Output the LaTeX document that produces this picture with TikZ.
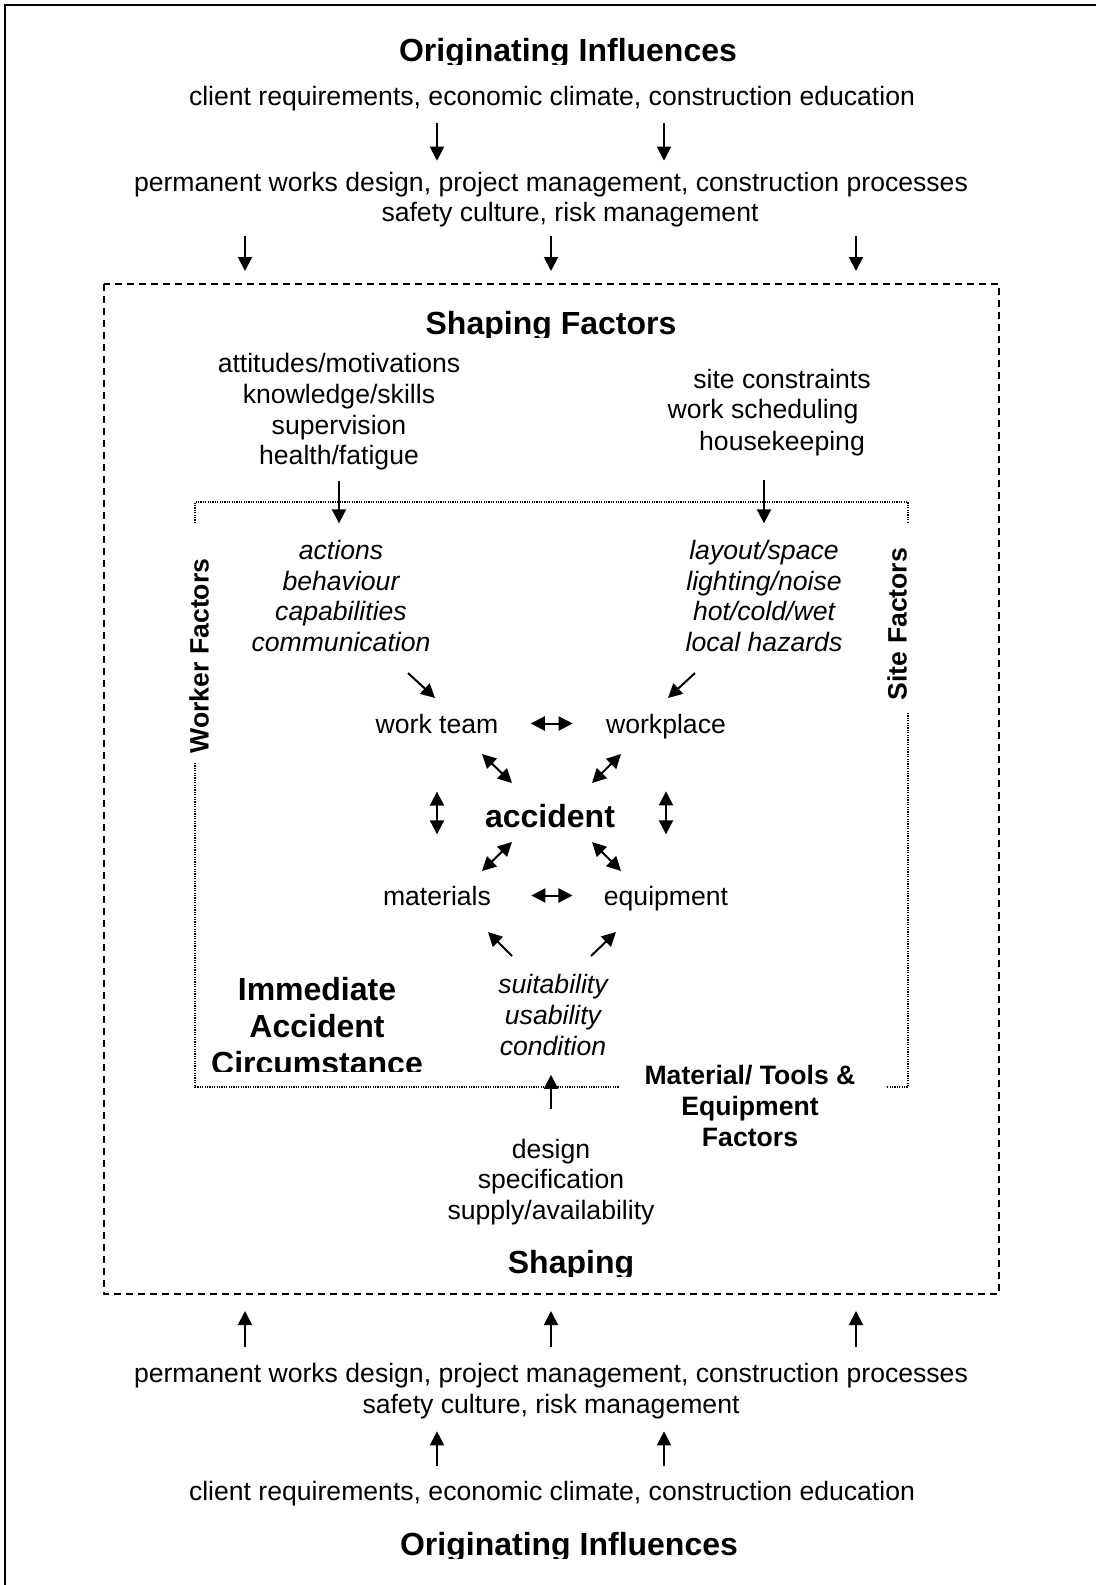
\documentclass[tikz,border=0pt]{standalone}
\usepackage{fontspec}
\setmainfont{Liberation Sans}
\usetikzlibrary{arrows.meta}

\newcommand{\regularSize}{\fontsize{13.3}{15.3}\selectfont}
\newcommand{\titleSize}{\fontsize{16}{18.5}\selectfont\bfseries}

\begin{document}
\begin{tikzpicture}[x=0.5pt,y=-0.5pt,%%
  >={Triangle[length=7pt,width=7pt]},%%
  arrowStyle/.style={->,line width=1pt},%%
  dblArrowStyle/.style={<->,line width=1pt},%%
  textStyle/.style={inner sep=0pt,font=\regularSize,align=center},%%
  lineStyle/.style={textStyle,anchor=base},%%
  italicStyle/.style={textStyle,font=\regularSize\itshape},%%
  boldStyle/.style={textStyle,font=\regularSize\bfseries},%%
  titleStyle/.style={inner sep=0pt,font=\titleSize,align=center,anchor=base},%%
  frameStyle/.style={line width=1.2pt},%%
  dashStyle/.style={line width=0.8pt,dash pattern=on 3.5pt off 2.5pt},%%
  dotStyle/.style={line width=1.1pt,dash pattern=on 0.6pt off 0.6pt}%%
]
%%
\useasboundingbox (0,0) rectangle (1096,1585);
%%
\coordinate (boxTopLeft) at (104,284);
\coordinate (boxBottomRight) at (999,1294);
\coordinate (innerTopLeft) at (195,502);
\coordinate (innerBottomRight) at (908,1087);
%%
%% Page frame.
\draw[frameStyle] (5,1585) -- (5,5) -- (1096,5);
%%
%% Originating influences at the top.
\begin{scope}
  \clip (300,20) rectangle (850,64);
  \node[titleStyle] (topTitle) at (568,61) {Originating Influences};
\end{scope}
\node[lineStyle] (clientTop) at (552,105)
  {client requirements, economic climate, construction education};
\node[lineStyle] (worksTop) at (551,191)
  {permanent works design, project management, construction processes};
\node[lineStyle] (safetyTop) at (570,221) {safety culture, risk management};
\foreach \ax in {437,664}
  \draw[arrowStyle,shorten <=6.2pt,shorten >=5.3pt]
    (clientTop.south -| \ax,0) -- (worksTop.north -| \ax,0);
\foreach \ax in {245,551,856}
  \draw[arrowStyle,shorten <=4.7pt,shorten >=6.5pt]
    (safetyTop.south -| \ax,0) -- (boxTopLeft -| \ax,0);
%%
%% Shaping factors box.
\draw[dashStyle] (boxTopLeft) rectangle (boxBottomRight);
\begin{scope}
  \clip (350,290) rectangle (750,337);
  \node[titleStyle] (shapingTitle) at (551,334) {Shaping Factors};
\end{scope}
\node[textStyle] (workerShaping) at (339,412)
  {attitudes/motivations\\knowledge/skills\\supervision\\health/fatigue};
\node[lineStyle] (siteA) at (782,388) {site constraints};
\node[lineStyle] (siteB) at (763,418) {work scheduling};
\node[lineStyle] (siteC) at (782,450) {housekeeping};
%%
%% Immediate accident circumstance box, open where the labels sit.
\draw[dotStyle] (195,523) -- (innerTopLeft) -- (innerTopLeft -| innerBottomRight) -- (908,524);
\draw[dotStyle] (195,763) -- (innerTopLeft |- innerBottomRight) -- (619,1087);
\draw[dotStyle] (908,713) -- (innerBottomRight) -- (886,1087);
\node[boldStyle,rotate=90] (workerFactors) at (199,656) {Worker Factors};
\node[boldStyle,rotate=90] (siteFactors) at (897,624) {Site Factors};
%%
\node[italicStyle] (workerList) at (341,596)
  {actions\\behaviour\\capabilities\\communication};
\node[italicStyle] (siteList) at (764,596)
  {layout/space\\lighting/noise\\hot/cold/wet\\local hazards};
\draw[arrowStyle,shorten <=5.2pt,shorten >=8.3pt]
  (workerShaping.south) -- (workerShaping.south |- workerList.north);
\draw[arrowStyle,shorten <=12.2pt,shorten >=8.3pt]
  (siteList.north |- siteC.south) -- (siteList.north);
%%
\node[lineStyle] (workTeam) at (437,733) {work team};
\node[lineStyle] (workplace) at (666,733) {workplace};
\node[titleStyle] (accident) at (550,827) {accident};
\node[lineStyle] (materials) at (437,905) {materials};
\node[lineStyle] (equipment) at (666,905) {equipment};
%%
\draw[arrowStyle] ([shift={(-29,-60)}]workTeam.base) -- ([shift={(-2,-35)}]workTeam.base);
\draw[arrowStyle] ([shift={(29,-60)}]workplace.base) -- ([shift={(2,-35)}]workplace.base);
\draw[dblArrowStyle,shorten <=16pt,shorten >=16.5pt]
  (workTeam.east) -- (workTeam.east -| workplace.west);
\draw[dblArrowStyle,shorten <=20pt,shorten >=15.5pt]
  (materials.east) -- (materials.east -| equipment.west);
\draw[dblArrowStyle,shorten <=29pt,shorten >=25.5pt]
  (workTeam.south) -- (materials.north);
\draw[dblArrowStyle,shorten <=26.2pt,shorten >=25.5pt]
  (workplace.south) -- (workplace.south |- equipment.north);
%% Links round the accident.
\draw[dblArrowStyle] ([shift={(-68,-73)}]accident.base) -- ([shift={(-38,-44)}]accident.base);
\draw[dblArrowStyle] ([shift={(71,-73)}]accident.base) -- ([shift={(42,-44)}]accident.base);
\draw[dblArrowStyle] ([shift={(-38,15)}]accident.base) -- ([shift={(-68,44)}]accident.base);
\draw[dblArrowStyle] ([shift={(42,15)}]accident.base) -- ([shift={(71,44)}]accident.base);
%%
\node[italicStyle] (suitList) at (553,1015) {suitability\\usability\\condition};
\draw[arrowStyle] ([shift={(75,51)}]materials.base) -- ([shift={(51,27)}]materials.base);
\draw[arrowStyle] ([shift={(-75,51)}]equipment.base) -- ([shift={(-50,27)}]equipment.base);
%%
\begin{scope}
  \clip (200,950) rectangle (450,1071);
  \node[titleStyle,anchor=center] (immediateLabel) at (317,1026.5)
    {Immediate\\Accident\\Circumstance};
\end{scope}
\node[boldStyle] (materialLabel) at (750,1106)
  {Material/ Tools \&\\Equipment\\Factors};
%%
\node[textStyle] (designList) at (551,1182)
  {design\\specification\\supply/availability};
\draw[arrowStyle,shorten <=14.8pt,shorten >=9.5pt]
  (designList.north) -- (designList.north |- suitList.south);
\begin{scope}
  \clip (450,1230) rectangle (700,1276);
  \node[titleStyle] (shapingBottom) at (571,1273) {Shaping};
\end{scope}
%%
%% Originating influences at the bottom.
\node[lineStyle] (worksBot) at (551,1382)
  {permanent works design, project management, construction processes};
\node[lineStyle] (safetyBot) at (551,1413) {safety culture, risk management};
\node[lineStyle] (clientBot) at (552,1500)
  {client requirements, economic climate, construction education};
\begin{scope}
  \clip (300,1520) rectangle (850,1558);
  \node[titleStyle] (bottomTitle) at (569,1555) {Originating Influences};
\end{scope}
\foreach \ax in {245,551,856}
  \draw[arrowStyle,shorten <=7.8pt,shorten >=8.5pt]
    (worksBot.north -| \ax,0) -- (boxBottomRight -| \ax,0);
\foreach \ax in {437,664}
  \draw[arrowStyle,shorten <=7.3pt,shorten >=6.2pt]
    (clientBot.north -| \ax,0) -- (safetyBot.south -| \ax,0);
\end{tikzpicture}
\end{document}
